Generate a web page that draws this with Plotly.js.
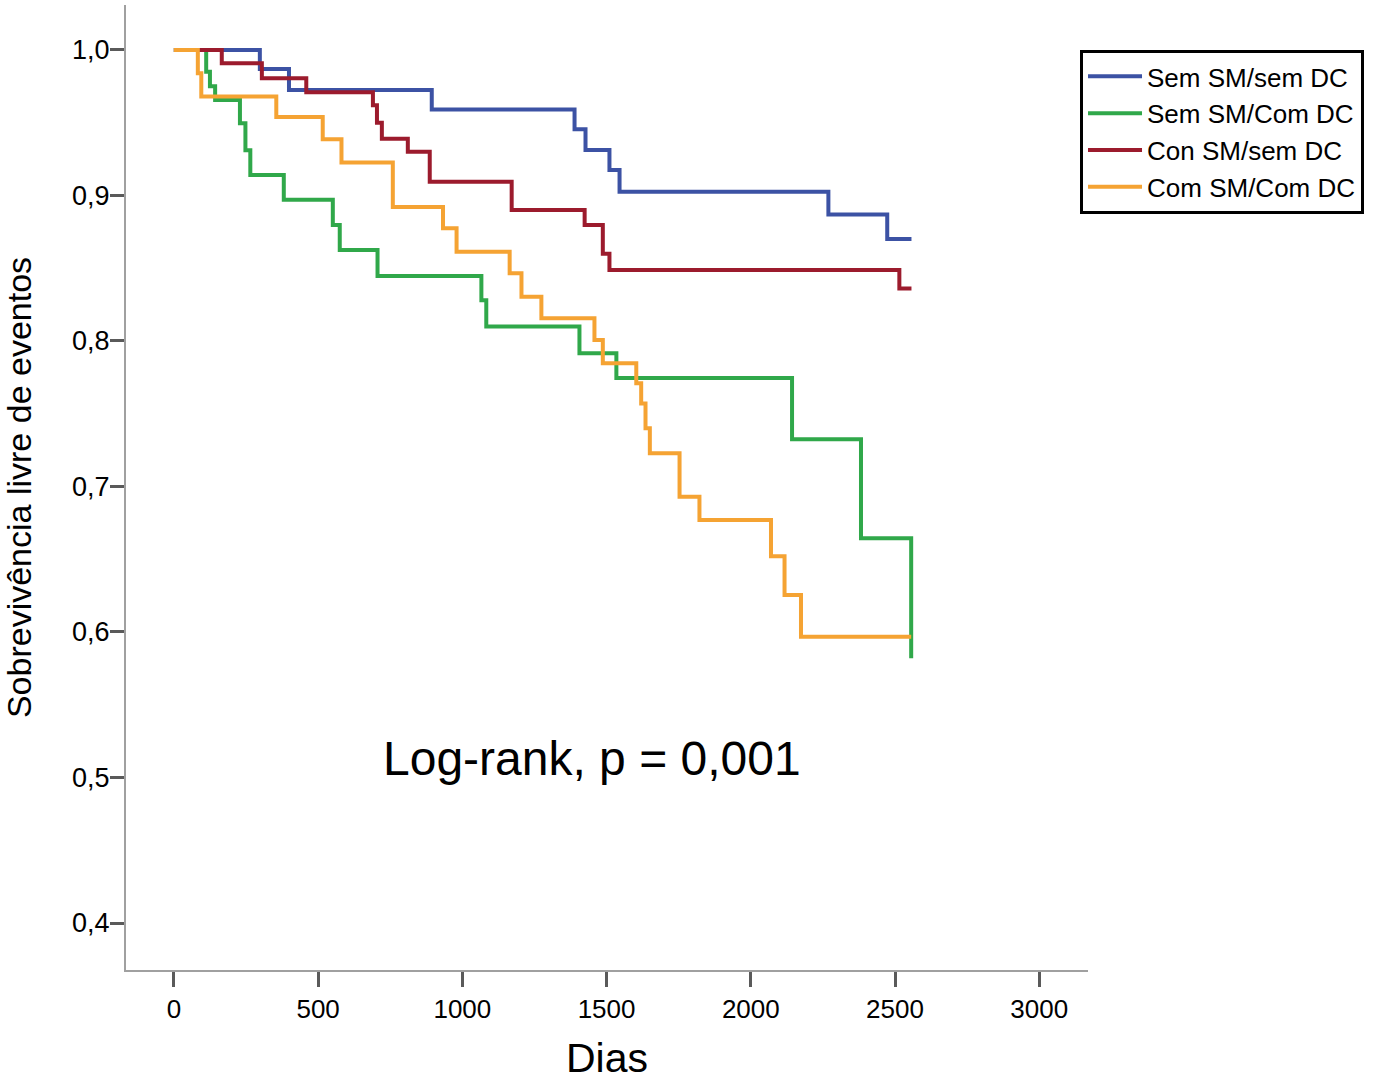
<!DOCTYPE html>
<html>
<head>
<meta charset="utf-8">
<script src="https://cdn.plot.ly/plotly-3.0.1.min.js"></script>
<style>html,body{margin:0;padding:0;background:#fff;}#chart{width:1387px;height:1081px;}</style>
</head>
<body>
<div id="chart"></div>
<script>
// Kaplan-Meier step data (time in days, survival after event)
const blueT = [0, 298, 399, 894, 1389, 1427, 1510, 1545, 2269, 2473, 2557];
const blueS = [1.0, 0.987, 0.9725, 0.959, 0.9455, 0.9313, 0.9175, 0.9026, 0.887, 0.870, 0.870];

const greenT = [0, 112, 125, 143, 229, 248, 265, 381, 551, 575, 706, 1066, 1083, 1406, 1534, 2143, 2382, 2556];
const greenS = [1.0, 0.985, 0.975, 0.9656, 0.9496, 0.931, 0.914, 0.897, 0.8797, 0.8625, 0.8447, 0.828, 0.810, 0.7916, 0.7746, 0.7324, 0.6644, 0.5819];

const redT = [0, 166, 305, 459, 690, 704, 721, 811, 887, 1171, 1424, 1487, 1510, 2515, 2557];
const redS = [1.0, 0.9908, 0.9805, 0.971, 0.962, 0.950, 0.939, 0.930, 0.9095, 0.890, 0.8797, 0.860, 0.8488, 0.836, 0.836];

const orangeT = [0, 83, 95, 355, 516, 581, 759, 933, 980, 1164, 1205, 1274, 1458, 1487, 1603, 1620, 1635, 1650, 1753, 1822, 2070, 2117, 2174, 2556];
const orangeS = [1.0, 0.984, 0.968, 0.954, 0.9386, 0.9226, 0.892, 0.8775, 0.8614, 0.8465, 0.8304, 0.8156, 0.8007, 0.7847, 0.771, 0.757, 0.740, 0.7228, 0.693, 0.677, 0.652, 0.6254, 0.5968, 0.5968];

const seriesNames = ["Sem SM/sem DC", "Sem SM/Com DC", "Con SM/sem DC", "Com SM/Com DC"];
const xTickVals = [0, 500, 1000, 1500, 2000, 2500, 3000];
const xTickText = ["0", "500", "1000", "1500", "2000", "2500", "3000"];
const yTickVals = [0.4, 0.5, 0.6, 0.7, 0.8, 0.9, 1.0];
const yTickText = ["0,4", "0,5", "0,6", "0,7", "0,8", "0,9", "1,0"];

const FONT = "Liberation Sans, Arial, Helvetica, sans-serif";
const colors = ["#3c52a4", "#30a84a", "#9c1b2d", "#f5a333"];
const xs = [blueT, greenT, redT, orangeT];
const ys = [blueS, greenS, redS, orangeS];

const traces = seriesNames.map((n, i) => ({
  type: "scatter",
  mode: "lines",
  name: n,
  x: xs[i],
  y: ys[i],
  line: {shape: "hv", color: colors[i], width: 4},
  hoverinfo: "skip"
}));

const layout = {
  width: 1387,
  height: 1081,
  paper_bgcolor: "#ffffff",
  plot_bgcolor: "#ffffff",
  margin: {l: 126, r: 299, t: 5, b: 111, autoexpand: false},
  font: {family: FONT, color: "#000"},
  showlegend: true,
  legend: {
    x: 0.9917, xanchor: "left",
    y: 0.9534, yanchor: "top",
    bordercolor: "#000", borderwidth: 3,
    bgcolor: "#fff",
    font: {family: FONT, size: 26, color: "#000"},
    itemwidth: 54,
    tracegroupgap: 0
  },
  xaxis: {
    range: [-166, 3169],
    tickvals: xTickVals,
    ticktext: xTickText,
    showgrid: false, zeroline: false,
    showline: true, linecolor: "#a0a0a0", linewidth: 2,
    ticks: "outside", ticklen: 15, tickwidth: 3, tickcolor: "#5a5a5a",
    tickfont: {family: FONT, size: 26, color: "#000"},
    title: {text: "Dias", font: {family: FONT, size: 41, color: "#000"}, standoff: 22},
    automargin: false
  },
  yaxis: {
    range: [0.3677, 1.0309],
    tickvals: yTickVals,
    ticktext: yTickText,
    showgrid: false, zeroline: false,
    showline: true, linecolor: "#a0a0a0", linewidth: 2,
    ticks: "outside", ticklen: 14, tickwidth: 3, tickcolor: "#5a5a5a",
    ticklabelstandoff: -5,
    tickfont: {family: FONT, size: 27, color: "#000"},
    title: {text: "Sobrevivência livre de eventos", font: {family: FONT, size: 34, color: "#000"}, standoff: 30},
    automargin: false
  },
  annotations: [{
    text: "Log-rank, p = 0,001",
    x: 1448, y: 0.5134, xref: "x", yref: "y",
    showarrow: false,
    font: {family: FONT, size: 48, color: "#000"}
  }]
};

Plotly.newPlot("chart", traces, layout, {displayModeBar: false, staticPlot: true});
</script>
</body>
</html>
